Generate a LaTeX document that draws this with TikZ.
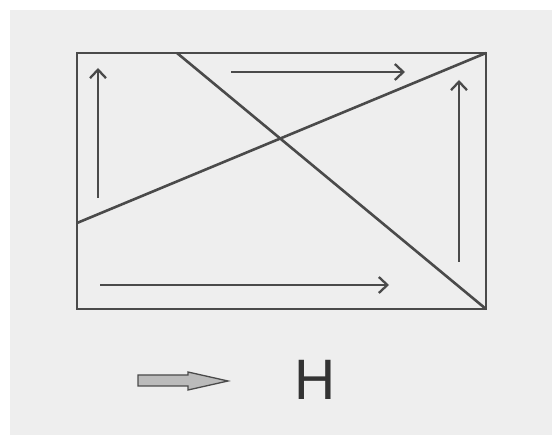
\documentclass[tikz,border=0pt]{standalone}
\usepackage{fontspec}
\setmainfont{Liberation Sans}
\usetikzlibrary{arrows.meta}
\definecolor{bg}{HTML}{EEEEEE}
\definecolor{ln}{HTML}{4A4A4A}
\definecolor{fatfill}{HTML}{BBBBBB}
\begin{document}
\begin{tikzpicture}[x=1pt,y=-1pt,
  edge/.style={draw=ln,line width=2.6pt},
  flow/.style={draw=ln,line width=2.3pt,-{Straight Barb[length=8.5pt,width=16pt,line width=2.3pt]}},
  fat/.style={draw=ln,fill=fatfill,line width=1.3pt,line join=miter}]
\useasboundingbox (0,0) rectangle (552,435);
\fill[white] (0,0) rectangle (552,435);
\fill[bg] (10,10) rectangle (552,435);
% frame corners
\coordinate (tl) at (77,53);
\coordinate (tr) at (486,53);
\coordinate (br) at (486,309);
\coordinate (bl) at (77,309);
\coordinate (topcut) at (177,53);
\coordinate (leftcut) at (77,223);
\draw[edge,line join=miter] (tl) -- (tr) -- (br) -- (bl) -- cycle;
\draw[edge] (topcut) -- (br);
\draw[edge] (leftcut) -- (tr);
% flow arrows
\coordinate (a1s) at (98,198); \coordinate (a1e) at (98,68);
\coordinate (a2s) at (231,72); \coordinate (a2e) at (405,72);
\coordinate (a3s) at (459,262); \coordinate (a3e) at (459,80);
\coordinate (a4s) at (100,285); \coordinate (a4e) at (389,285);
\draw[flow] (a1s) -- (a1e);
\draw[flow] (a2s) -- (a2e);
\draw[flow] (a3s) -- (a3e);
\draw[flow] (a4s) -- (a4e);
% legend
\draw[fat] (138,375) -- (188,375) -- (188,372) -- (228,381) -- (188,390) -- (188,386) -- (138,386) -- cycle;
\node[text=black!80,font=\fontsize{57}{57}\selectfont,inner sep=0pt,anchor=base] (H) at (315,400) {H};
\end{tikzpicture}
\end{document}
